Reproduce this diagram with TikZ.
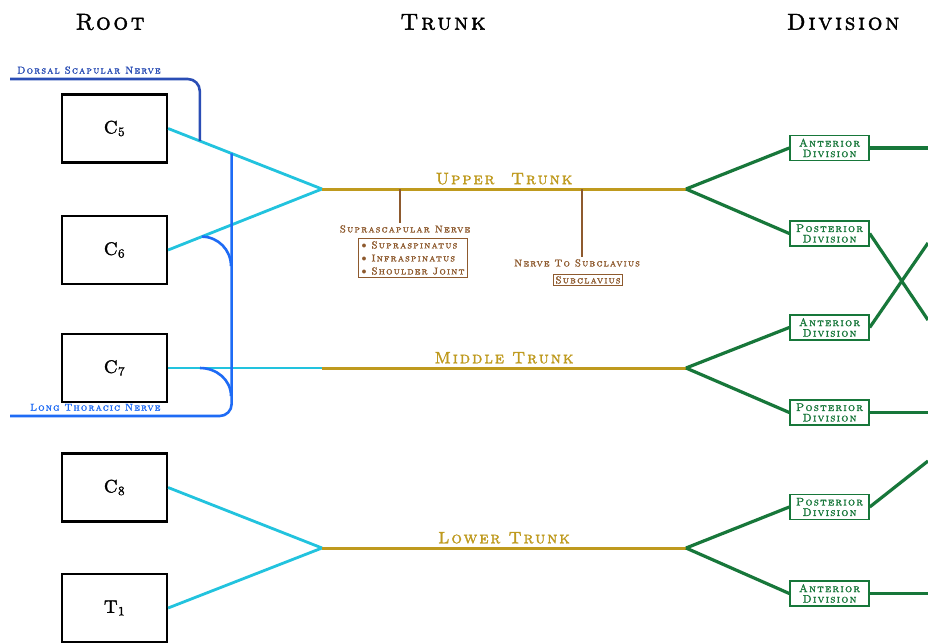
\documentclass[tikz,border=0pt]{standalone}
\usepackage{fontspec}
\usetikzlibrary{positioning,calc}
\newfontfamily\handfont{lmromancaps10-regular.otf}[LetterSpace=12, FakeBold=1.8]
\definecolor{rootcyan}{HTML}{22C3DE}
\definecolor{trunkgold}{HTML}{BF9A1E}
\definecolor{nervebrown}{HTML}{8E5A2E}
\definecolor{divgreen}{HTML}{17773A}
\definecolor{dsnblue}{HTML}{2A4DB5}
\definecolor{ltnblue}{HTML}{1E6BF5}
\begin{document}
\begin{tikzpicture}
        [x=1pt, y=-1pt,
        heading/.style={font=\handfont\fontsize{23}{25}\selectfont},
        rootbox/.style={draw, line width=2.2pt, minimum width=105pt, minimum height=68pt, font=\handfont\fontsize{18}{20}\selectfont},
        divbox/.style={draw=divgreen, line width=1.4pt, text=divgreen, align=center, minimum width=79pt, minimum height=25pt, inner sep=1pt, font=\handfont\fontsize{11}{10.5}\selectfont},
        trunklabel/.style={text=trunkgold, font=\handfont\fontsize{16.5}{18}\selectfont},
        twiglabel/.style={text=nervebrown, font=\handfont\fontsize{10}{11}\selectfont},
        twigbox/.style={draw=nervebrown, line width=1.4pt, text=nervebrown, inner sep=3pt, font=\handfont\fontsize{10}{13}\selectfont},
        nervelabel/.style={font=\handfont\fontsize{10}{11}\selectfont},
        rootline/.style={rootcyan, line width=2.8pt},
        trunkline/.style={trunkgold, line width=3pt},
        divline/.style={divgreen, line width=3.2pt},
        twigline/.style={nervebrown, line width=2.6pt},
        dsnline/.style={dsnblue, line width=2.6pt, rounded corners=12pt},
        ltnline/.style={ltnblue, line width=2.6pt, rounded corners=12pt},
        inner sep=2pt]

        \useasboundingbox[fill=white] (0,0) rectangle (928,643);

        % column headings
        \node[heading] (hroot) at (110,22) {Root};
        \node[heading] (htrunk) at (443,22) {Trunk};
        \node[heading] (hdiv) at (843,22) {Division};

        % roots
        \node[rootbox] (c5) at (114.5,128.5) {C\textsubscript{5}};
        \node[rootbox] (c6) at (114.5,250) {C\textsubscript{6}};
        \node[rootbox] (c7) at (114.5,368) {C\textsubscript{7}};
        \node[rootbox] (c8) at (114.5,487.5) {C\textsubscript{8}};
        \node[rootbox] (t1) at (114.5,608) {T\textsubscript{1}};

        % trunk start and end points
        \coordinate (ut) at (322,189);
        \coordinate (mt) at (322,368);
        \coordinate (lt) at (322,548);
        \coordinate (utend) at (686,189);
        \coordinate (mtend) at (686,368);
        \coordinate (ltend) at (686,548);

        \draw[rootline] (c5.east) -- (ut);
        \draw[rootline] (c6.east) -- (ut);
        \draw[rootline] (c7.east) -- (mt);
        \draw[rootline] (c8.east) -- (lt);
        \draw[rootline] (t1.east) -- (lt);

        \draw[trunkline] (ut) -- (utend) node[midway, above=1pt, trunklabel] {Upper\quad Trunk};
        \draw[trunkline] (mt) -- (mtend) node[midway, above=1pt, trunklabel] {Middle Trunk};
        \draw[trunkline] (lt) -- (ltend) node[midway, above=1pt, trunklabel] {Lower Trunk};

        % branches of the upper trunk
        \coordinate (ssn) at (400,189);
        \node[twiglabel] (ssnlabel) at (405,229) {Suprascapular Nerve};
        \node[twigbox, align=left] (ssnbox) at (413,258)
            {$\bullet$ Supraspinatus\\ $\bullet$ Infraspinatus\\ $\bullet$ Shoulder Joint};
        \draw[twigline] (ssn) -- (ssn |- ssnlabel.north);

        \coordinate (nts) at (582,189);
        \node[twiglabel] (ntslabel) at (577,263) {Nerve To Subclavius};
        \node[twigbox, inner sep=2pt] (ntsbox) at (588,280) {Subclavius};
        \draw[twigline] (nts) -- (nts |- ntslabel.north);

        % divisions
        \node[divbox] (ua) at (829.5,148) {Anterior\\Division};
        \node[divbox] (up) at (829.5,233.5) {Posterior\\Division};
        \node[divbox] (ma) at (829.5,327.5) {Anterior\\Division};
        \node[divbox] (mp) at (829.5,412.5) {Posterior\\Division};
        \node[divbox] (lp) at (829.5,507) {Posterior\\Division};
        \node[divbox] (la) at (829.5,593.5) {Anterior\\Division};

        \draw[divline] (utend) -- (ua.west);
        \draw[divline] (utend) -- (up.west);
        \draw[divline] (mtend) -- (ma.west);
        \draw[divline] (mtend) -- (mp.west);
        \draw[divline] (ltend) -- (lp.west);
        \draw[divline] (ltend) -- (la.west);

        % loose ends at the right edge
        \coordinate (o1) at (928,148);
        \coordinate (o2) at (928,320);
        \coordinate (o3) at (928,243);
        \coordinate (o4) at (928,412.5);
        \coordinate (o5) at (928,461);
        \coordinate (o6) at (928,593.5);

        \draw[divline] (ua.east) -- (o1);
        \draw[divline] (up.east) -- (o2);
        \draw[divline] (ma.east) -- (o3);
        \draw[divline] (mp.east) -- (o4);
        \draw[divline] (lp.east) -- (o5);
        \draw[divline] (la.east) -- (o6);

        % dorsal scapular nerve off C5
        \coordinate (dsnjoin) at ($(c5.east)!0.206!(ut)$);
        \coordinate (dsnend) at (10,79);
        \draw[dsnline] (dsnjoin) |- (dsnend);
        \node[nervelabel, text=dsnblue, anchor=south west] (dsnlabel) at (15,76) {Dorsal Scapular Nerve};

        % long thoracic nerve off C5, C6 and C7
        \coordinate (ltnjoin) at ($(c5.east)!0.413!(ut)$);
        \coordinate (ltnend) at (10,416);
        \draw[ltnline] (ltnjoin) |- (ltnend);
        \coordinate (c6join) at ($(c6.east)!0.219!(ut)$);
        \coordinate (c6meet) at (231,266);
        \coordinate (c7join) at (200,368);
        \coordinate (c7meet) at (231,396);
        \draw[ltnblue, line width=2.6pt] (c6join) to[out=0, in=90] (c6meet);
        \draw[ltnblue, line width=2.6pt] (c7join) to[out=0, in=90] (c7meet);
        \node[nervelabel, text=ltnblue, anchor=south west] (ltnlabel) at (28,413) {Long Thoracic Nerve};
    \end{tikzpicture}
\end{document}
